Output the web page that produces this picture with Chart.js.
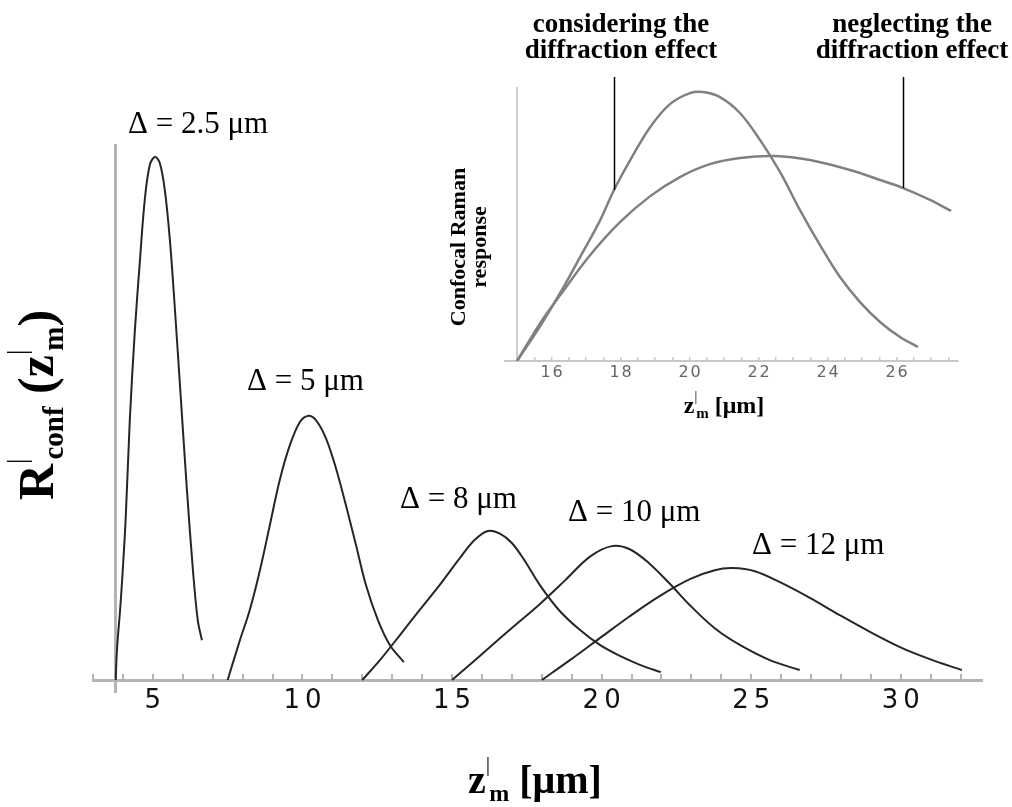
<!DOCTYPE html>
<html><head><meta charset="utf-8">
<script src="https://cdn.jsdelivr.net/npm/chart.js@4.4.0/dist/chart.umd.min.js"></script>
<style>
html,body{margin:0;padding:0;background:#fff;}
#wrap{position:relative;width:1012px;height:807px;overflow:hidden;}
#main{position:absolute;left:0;top:0;}
#inset{position:absolute;left:420px;top:0;}
</style></head><body>
<div id="wrap"><canvas id="main" width="1012" height="807"></canvas><canvas id="inset" width="592" height="440"></canvas></div>
<script>
// ---------- main chart data (z'_m in µm, normalised response) ----------
const d25x = [3.76, 3.80, 3.93, 4.09, 4.23, 4.40, 4.57, 4.73, 4.90, 5.07, 5.23, 5.40, 5.57, 5.74, 5.94, 6.14, 6.34, 6.50, 6.64];
const d25y = [0, 0.057, 0.153, 0.306, 0.497, 0.669, 0.803, 0.918, 0.985, 1.0, 0.989, 0.937, 0.841, 0.707, 0.535, 0.363, 0.210, 0.115, 0.076];
const d5x  = [7.5, 7.91, 8.24, 8.58, 8.91, 9.24, 9.58, 9.91, 10.18, 10.45, 10.78, 11.12, 11.45, 11.79, 12.12, 12.52, 12.92, 13.39];
const d5y  = [0, 0.076, 0.134, 0.210, 0.296, 0.382, 0.449, 0.493, 0.505, 0.497, 0.463, 0.405, 0.335, 0.258, 0.182, 0.115, 0.067, 0.034];
const d8x  = [12.0, 12.59, 13.26, 13.92, 14.59, 15.26, 15.76, 16.20, 16.60, 17.00, 17.43, 17.93, 18.60, 19.27, 19.94, 20.61, 21.28, 21.98];
const d8y  = [0, 0.038, 0.086, 0.134, 0.182, 0.233, 0.268, 0.285, 0.280, 0.262, 0.228, 0.182, 0.132, 0.096, 0.067, 0.046, 0.029, 0.015];
const d10x = [15.0, 15.93, 16.93, 17.93, 18.77, 19.61, 20.34, 20.94, 21.61, 22.28, 22.95, 23.78, 24.62, 25.62, 26.62];
const d10y = [0, 0.046, 0.096, 0.145, 0.190, 0.236, 0.256, 0.250, 0.222, 0.184, 0.143, 0.099, 0.067, 0.038, 0.019];
const d12x = [18.0, 18.94, 19.94, 20.94, 21.95, 22.95, 23.78, 24.38, 25.12, 25.96, 26.96, 27.96, 28.97, 29.97, 30.97, 32.04];
const d12y = [0, 0.038, 0.080, 0.122, 0.161, 0.193, 0.210, 0.214, 0.208, 0.187, 0.157, 0.124, 0.092, 0.063, 0.040, 0.019];
const mainLabels = ['\u0394 = 2.5 \u03bcm', '\u0394 = 5 \u03bcm', '\u0394 = 8 \u03bcm', '\u0394 = 10 \u03bcm', '\u0394 = 12 \u03bcm'];
const mainTickStep = 1;
const mainLabelEvery = 5;

// ---------- inset data ----------
const consX = [15.00, 15.67, 16.25, 16.83, 17.41, 17.81, 18.28, 18.86, 19.43, 20.01, 20.39, 20.88, 21.46, 22.04, 22.62, 23.20, 23.78, 24.36, 24.94, 25.52, 26.10, 26.62];
const consY = [0, 0.130, 0.253, 0.387, 0.524, 0.636, 0.747, 0.870, 0.955, 0.996, 1.0, 0.981, 0.922, 0.822, 0.703, 0.561, 0.431, 0.312, 0.219, 0.145, 0.089, 0.052];
const neglX = [15.00, 15.67, 16.25, 17.12, 17.99, 18.86, 19.72, 20.59, 21.46, 22.48, 23.49, 24.65, 25.52, 26.19, 26.97, 27.58];
const neglY = [0, 0.141, 0.245, 0.394, 0.517, 0.613, 0.684, 0.732, 0.755, 0.762, 0.747, 0.710, 0.673, 0.643, 0.599, 0.558];
const pointerX = [17.81, 26.19];
const pointerY = [0.636, 0.643];
const insetLabels = [['considering the', 'diffraction effect'], ['neglecting the', 'diffraction effect']];

const SERIF = '"Liberation Serif", "Times New Roman", serif';
const zip = (xs, ys) => xs.map((x, i) => ({x: x, y: ys[i]}));

function drawRich(ctx, parts, x, y) {
  let w = 0;
  parts.forEach(p => { ctx.font = p[1]; p.w = ctx.measureText(p[0]).width + (p[3] || 0); w += p.w; });
  let cx = x - w / 2;
  ctx.textAlign = 'left';
  parts.forEach(p => { ctx.font = p[1]; ctx.fillText(p[0], cx, y + p[2]); cx += p.w; });
}

const mainPlugin = {
  id: 'mainText',
  beforeDraw(chart) { chart.ctx.letterSpacing = '5px'; },
  beforeDatasetsDraw(chart) { chart.ctx.letterSpacing = '0px'; },
  afterDraw(chart) {
    const ctx = chart.ctx;
    ctx.save();
    ctx.letterSpacing = '0px';
    ctx.fillStyle = '#000';
    ctx.textBaseline = 'alphabetic';
    ctx.textAlign = 'left';
    ctx.font = '31px ' + SERIF;
    const pos = [[128, 133], [247, 390], [400, 508], [568, 521], [752, 554]];
    mainLabels.forEach((t, i) => ctx.fillText(t, pos[i][0], pos[i][1]));
    // x title
    drawRich(ctx, [
      ['z', 'bold 40px ' + SERIF, 0],
      ['|', '22px ' + SERIF, -22, -1],
      ['m', 'bold 24px ' + SERIF, 8],
      [' [\u03bcm]', 'bold 40px ' + SERIF, 0]
    ], 535, 793);
    // y title
    ctx.translate(53, 405);
    ctx.rotate(-Math.PI / 2);
    drawRich(ctx, [
      ['R', 'bold 50px ' + SERIF, 0],
      ['|', '27px ' + SERIF, -27, -1],
      ['conf', 'bold 29px ' + SERIF, 10],
      [' (', 'bold 50px ' + SERIF, 0],
      ['z', 'bold 50px ' + SERIF, 0],
      ['|', '27px ' + SERIF, -27, -1],
      ['m', 'bold 29px ' + SERIF, 10],
      [')', 'bold 50px ' + SERIF, 0]
    ], 0, 0);
    ctx.restore();
  }
};

const lineStyle = {borderColor: '#262626', borderWidth: 2, pointRadius: 0, fill: false, tension: 0.35};

new Chart(document.getElementById('main'), {
  type: 'line',
  data: {
    datasets: [
      Object.assign({label: mainLabels[0], data: zip(d25x, d25y)}, lineStyle),
      Object.assign({label: mainLabels[1], data: zip(d5x, d5y)}, lineStyle),
      Object.assign({label: mainLabels[2], data: zip(d8x, d8y)}, lineStyle),
      Object.assign({label: mainLabels[3], data: zip(d10x, d10y)}, lineStyle),
      Object.assign({label: mainLabels[4], data: zip(d12x, d12y)}, lineStyle)
    ]
  },
  options: {
    responsive: false, animation: false,
    layout: {padding: {left: 93, right: 30.4, top: 145, bottom: 115}},
    plugins: {legend: {display: false}, tooltip: {enabled: false}},
    scales: {
      x: {
        type: 'linear', min: 3, max: 32.7, position: {y: 0},
        border: {display: true, color: '#b4b4b4', width: 3},
        grid: {display: true, drawOnChartArea: false, drawTicks: true, tickLength: -8, color: '#b4b4b4', lineWidth: 2},
        ticks: {stepSize: mainTickStep, includeBounds: false, autoSkip: false, maxRotation: 0, padding: 14, labelOffset: 2.5,
          color: '#111', font: {family: '"DejaVu Sans", sans-serif', size: 26},
          callback: v => (Math.abs(v % mainLabelEvery) < 1e-9 ? String(v) : '')}
      },
      y: {
        type: 'linear', min: -0.02294, max: 1.02294, position: {x: 3.75},
        border: {display: true, color: '#b4b4b4', width: 3},
        grid: {display: false}, ticks: {display: false}
      }
    }
  },
  plugins: [mainPlugin]
});

const insetPlugin = {
  id: 'insetText',
  beforeDraw(chart) { chart.ctx.letterSpacing = '2px'; },
  beforeDatasetsDraw(chart) { chart.ctx.letterSpacing = '0px'; },
  afterDraw(chart) {
    const ctx = chart.ctx;
    const xs = chart.scales.x, ys = chart.scales.y;
    ctx.save();
    ctx.letterSpacing = '0px';
    ctx.fillStyle = '#000';
    ctx.textBaseline = 'alphabetic';
    ctx.textAlign = 'center';
    ctx.font = 'bold 27px ' + SERIF;
    const cx = [201, 492];
    insetLabels.forEach((lines, i) => {
      ctx.fillText(lines[0], cx[i], 32);
      ctx.fillText(lines[1], cx[i], 58);
    });
    ctx.strokeStyle = '#000';
    ctx.lineWidth = 1.5;
    pointerX.forEach((v, i) => {
      const px = Math.round(xs.getPixelForValue(v)) + 0.5;
      ctx.beginPath();
      ctx.moveTo(px, 77);
      ctx.lineTo(px, ys.getPixelForValue(pointerY[i]));
      ctx.stroke();
    });
    // x title
    drawRich(ctx, [
      ['z', 'bold 24px ' + SERIF, 0],
      ['|', '14px ' + SERIF, -12, -1],
      ['m', 'bold 15px ' + SERIF, 5],
      [' [\u03bcm]', 'bold 24px ' + SERIF, 0]
    ], 304, 413);
    // y title
    ctx.textAlign = 'center';
    ctx.font = 'bold 22px ' + SERIF;
    ctx.save(); ctx.translate(45, 247); ctx.rotate(-Math.PI / 2); ctx.fillText('Confocal Raman', 0, 0); ctx.restore();
    ctx.save(); ctx.translate(66, 247); ctx.rotate(-Math.PI / 2); ctx.fillText('response', 0, 0); ctx.restore();
    ctx.restore();
  }
};

const insetStyle = {borderColor: '#808080', borderWidth: 2.5, pointRadius: 0, fill: false, tension: 0.35};
new Chart(document.getElementById('inset'), {
  type: 'line',
  data: {
    datasets: [
      Object.assign({label: 'considering the diffraction effect', data: zip(consX, consY)}, insetStyle),
      Object.assign({label: 'neglecting the diffraction effect', data: zip(neglX, neglY)}, insetStyle)
    ]
  },
  options: {
    responsive: false, animation: false,
    layout: {padding: {left: 85, right: 54, top: 88, bottom: 79}},
    plugins: {legend: {display: false}, tooltip: {enabled: false}},
    scales: {
      x: {
        type: 'linear', min: 14.65, max: 27.78, position: {y: 0},
        border: {display: true, color: '#c8c8c8', width: 2},
        grid: {display: true, drawOnChartArea: false, drawTicks: true, tickLength: -5, color: '#c8c8c8', lineWidth: 1.5},
        ticks: {stepSize: 0.5, includeBounds: false, autoSkip: false, maxRotation: 0, padding: 7, labelOffset: 1,
          color: '#666', font: {family: '"DejaVu Sans", sans-serif', size: 16},
          callback: v => (Number.isInteger(v) && v % 2 === 0 ? String(v) : '')}
      },
      y: {
        type: 'linear', min: 0, max: 1.015, position: {x: 15},
        border: {display: true, color: '#d0d0d0', width: 2},
        grid: {display: false}, ticks: {display: false}
      }
    }
  },
  plugins: [insetPlugin]
});
</script>
</body></html>
